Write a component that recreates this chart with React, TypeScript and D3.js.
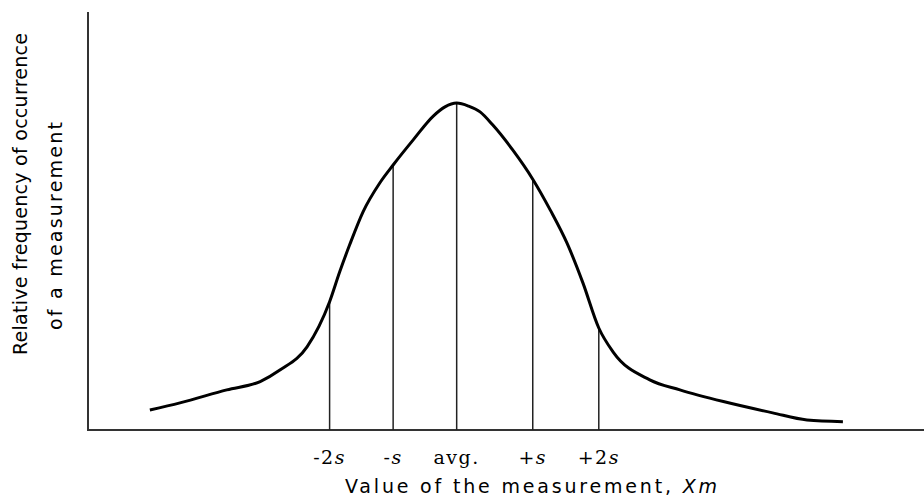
import * as d3 from "d3";

const curveX = [7.4, 11.0, 16.6, 20.6, 23.0, 26.2, 28.9, 30.1, 31.3, 32.9, 34.9, 36.5, 38.9, 41.3, 42.7, 44.1, 45.5, 46.9, 48.4, 50.8, 53.2, 55.3, 57.3, 59.2, 61.1, 62.8, 67.2, 70.8, 76.0, 81.9, 86.0, 90.3];
const curveY = [4.8, 6.5, 9.6, 11.6, 14.4, 19.9, 30.7, 37.8, 44.3, 52.2, 59.1, 63.4, 69.4, 75.1, 77.3, 78.2, 77.5, 76.1, 73.0, 67.0, 60.0, 52.6, 44.7, 35.2, 24.4, 18.7, 12.0, 9.6, 6.8, 4.1, 2.4, 2.0];

// marker lines at avg +/- s
const markLabels = ["-2s", "-s", "avg.", "+s", "+2s"];
const markX = [28.9, 36.5, 44.1, 53.2, 61.1];
const markY = [30.7, 63.4, 78.2, 60.0, 24.4];

const W = 924;
const H = 499;
const left = 88;
const top = 12;
const bottom = 430;

function Label({ text }: { text: string }) {
  // italic "s" after the sign / number
  if (text.endsWith("s")) {
    return (
      <>
        <tspan>{text.slice(0, -1)}</tspan>
        <tspan fontStyle="italic">s</tspan>
      </>
    );
  }
  return <tspan>{text}</tspan>;
}

export default function App() {
  const x = d3.scaleLinear().domain([0, 100]).range([left, W]);
  const y = d3.scaleLinear().domain([0, 100]).range([bottom, top]);

  const pts = curveX.map((v, i) => [v, curveY[i]] as [number, number]);
  const line = d3
    .line<[number, number]>()
    .x((d) => x(d[0]))
    .y((d) => y(d[1]))
    .curve(d3.curveMonotoneX);

  const sans = "'DejaVu Sans', sans-serif";

  return (
    <svg
      width={W}
      height={H}
      style={{ position: "absolute", left: 0, top: 0, background: "#fff" }}
    >
      {/* axes */}
      <line x1={x(0)} x2={x(0)} y1={y(100)} y2={y(0) + 1} stroke="#333" strokeWidth={2} />
      <line x1={x(0)} x2={x(100)} y1={y(0)} y2={y(0)} stroke="#333" strokeWidth={2} />

      {/* marker lines */}
      {markX.map((mx, i) => (
        <line
          key={i}
          x1={x(mx)}
          x2={x(mx)}
          y1={y(markY[i])}
          y2={y(0)}
          stroke="#222"
          strokeWidth={1.5}
        />
      ))}

      <path d={line(pts) || ""} fill="none" stroke="#000" strokeWidth={3} strokeLinejoin="round" />

      {/* tick labels */}
      {markX.map((mx, i) => (
        <text
          key={i}
          x={x(mx)}
          y={464}
          textAnchor="middle"
          fontFamily="'DejaVu Serif', serif"
          fontSize={19}
          letterSpacing={1.5}
          fill="#000"
        >
          <Label text={markLabels[i]} />
        </text>
      ))}

      {/* x title */}
      <text
        x={345}
        y={493}
        fontFamily={sans}
        fontSize={19}
        textLength={372}
        lengthAdjust="spacing"
        fill="#000"
      >
        Value of the measurement, <tspan fontStyle="italic">Xm</tspan>
      </text>

      {/* y title */}
      <text
        transform="translate(27,355) rotate(-90)"
        fontFamily={sans}
        fontSize={19}
        textLength={322}
        lengthAdjust="spacing"
        fill="#000"
      >
        Relative frequency of occurrence
      </text>
      <text
        transform="translate(62,330) rotate(-90)"
        fontFamily={sans}
        fontSize={19}
        textLength={208}
        lengthAdjust="spacing"
        fill="#000"
      >
        of a measurement
      </text>
    </svg>
  );
}
